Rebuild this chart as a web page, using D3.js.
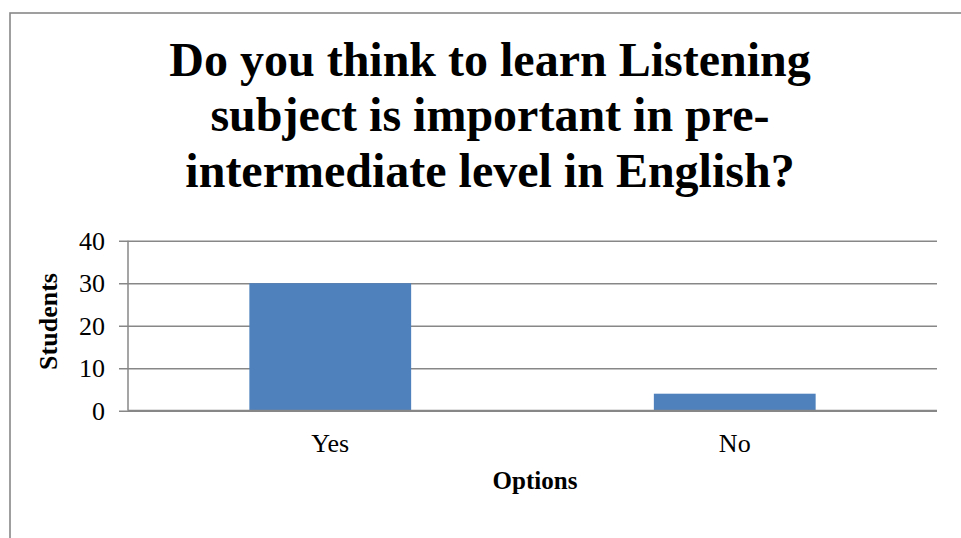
<!DOCTYPE html>
<html>
<head>
<meta charset="utf-8">
<script src="https://cdn.jsdelivr.net/npm/d3@7"></script>
<style>
  html, body { margin: 0; padding: 0; background: #fff; }
  svg { display: block; }
  text { font-family: "Liberation Serif", "Times New Roman", serif; fill: #000; }
</style>
</head>
<body>
<svg id="chart" width="961" height="538"></svg>
<script>
// Survey answers
const categories = ["Yes", "No"];
const students = [30, 4];
const yTicks = [0, 10, 20, 30, 40];
const titleLines = [
  "Do you think to learn Listening",
  "subject is important in pre-",
  "intermediate level in English?"
];

const svg = d3.select("#chart");

// Outer chart frame (continues past the right and bottom edges)
svg.append("rect")
  .attr("x", 10).attr("y", 13)
  .attr("width", 1000).attr("height", 1000)
  .attr("fill", "#fff")
  .attr("stroke", "#888").attr("stroke-width", 1.6);

const plot = { left: 128, right: 937, top: 240.7, bottom: 410.7 };

const x = d3.scaleBand()
  .domain(categories)
  .range([plot.left, plot.right])
  .paddingInner(0.6)
  .paddingOuter(0.3);

const y = d3.scaleLinear()
  .domain([0, 40])
  .range([plot.bottom, plot.top]);

// Title
const title = svg.append("text")
  .attr("text-anchor", "middle")
  .style("font-size", "48px")
  .style("font-weight", "bold");
titleLines.forEach((line, i) => {
  title.append("tspan")
    .attr("x", 490)
    .attr("y", 76 + i * 55.3)
    .text(line);
});

// Horizontal gridlines with tick marks
const yAxis = d3.axisLeft(y)
  .tickValues(yTicks)
  .tickSize(plot.right - plot.left + 9)
  .tickPadding(14)
  .tickFormat(d3.format("d"));

const gy = svg.append("g")
  .attr("transform", `translate(${plot.right},0)`)
  .call(yAxis);
gy.select(".domain").remove();
gy.selectAll(".tick line")
  .attr("stroke", "#878787")
  .attr("stroke-width", 1.5);
gy.selectAll(".tick text")
  .attr("x", -(plot.right - plot.left) - 23)
  .style("font-size", "26px")
  .style("font-family", "'Liberation Serif', serif")
  .attr("fill", "#000");

// Vertical axis line
svg.append("line")
  .attr("x1", plot.left).attr("x2", plot.left)
  .attr("y1", plot.top).attr("y2", plot.bottom)
  .attr("stroke", "#878787").attr("stroke-width", 1.5);

// Bars
svg.append("g")
  .selectAll("rect")
  .data(categories.map((c, i) => ({ c, v: students[i] })))
  .join("rect")
  .attr("x", d => x(d.c))
  .attr("width", x.bandwidth())
  .attr("y", d => y(d.v))
  .attr("height", d => y(0) - y(d.v))
  .attr("fill", "#4F81BD");

// Baseline axis
svg.append("line")
  .attr("x1", plot.left).attr("x2", plot.right)
  .attr("y1", plot.bottom).attr("y2", plot.bottom)
  .attr("stroke", "#878787").attr("stroke-width", 2);

// Category labels
svg.append("g")
  .selectAll("text")
  .data(categories)
  .join("text")
  .attr("x", d => x(d) + x.bandwidth() / 2)
  .attr("y", 451.5)
  .attr("text-anchor", "middle")
  .style("font-size", "26px")
  .text(d => d);

// Axis titles
svg.append("text")
  .attr("x", 535).attr("y", 489)
  .attr("text-anchor", "middle")
  .style("font-size", "25px")
  .style("font-weight", "bold")
  .text("Options");

svg.append("text")
  .attr("transform", "translate(57,321.5) rotate(-90)")
  .attr("text-anchor", "middle")
  .style("font-size", "26px")
  .style("font-weight", "bold")
  .text("Students");
</script>
</body>
</html>
